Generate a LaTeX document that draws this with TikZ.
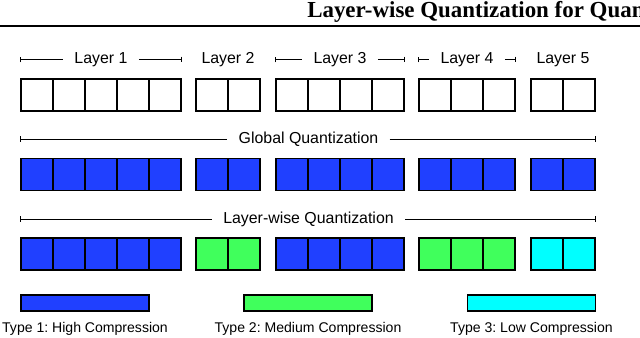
\documentclass[tikz,border=0pt]{standalone}
\usepackage{fontspec}
\setmainfont{Liberation Sans}
\newfontfamily\titlefont{Liberation Serif}
\usepackage{xcolor}
\usepackage{tikz}
\usetikzlibrary{arrows.meta,positioning}
\frenchspacing
\definecolor{HighBlue}{HTML}{2040FF}
\definecolor{MedGreen}{HTML}{40FF5C}
\definecolor{LowCyan}{HTML}{00FFFF}
\tikzset{
    cell/.style={draw=black, line width=0.9pt, minimum width=0.8cm, minimum height=0.8cm, inner sep=0pt},
    typebar/.style={draw=black, line width=0.9pt, minimum width=3.2cm, minimum height=0.4cm, inner sep=0pt},
    spanlabel/.style={inner xsep=0.275cm, inner ysep=0pt, font=\fontsize{11.3}{13}\selectfont},
    typelabel/.style={inner sep=0pt, font=\fontsize{10}{12}\selectfont},
    spanline/.style={line width=0.7pt}
}

\begin{document}
\begin{tikzpicture}[x=0.025cm, y=-0.025cm]
        \useasboundingbox (0,0) rectangle (640,337);
        \fill[white] (0,0) rectangle (640,337);

        \node[anchor=base west, inner sep=0pt, font=\titlefont\bfseries\fontsize{16.3}{19}\selectfont] (title) at (307,17) {Layer-wise Quantization for Quan};
        \draw[line width=1.8pt] (0,26) -- (640,26);

        \foreach \l/\x/\n/\clr in {1/21/5/HighBlue, 2/196/2/MedGreen, 3/276/4/HighBlue, 4/419/3/MedGreen, 5/531/2/LowCyan} {
            \node[spanlabel] (lab\l) at ({\x+16*\n},59.5) {Layer \l};
            \foreach \c in {1,...,\n} {
                \node[cell] (p\l-\c) at ({\x+32*\c-16},95) {};
                \node[cell, fill=HighBlue] (g\l-\c) at ({\x+32*\c-16},174.5) {};
                \node[cell, fill=\clr] (w\l-\c) at ({\x+32*\c-16},254) {};
            }
        }

        \foreach \l/\n in {1/5, 3/4, 4/3} {
            \draw[spanline, {Bar[width=4pt]}-] (p\l-1.west |- lab\l) -- (lab\l.west);
            \draw[spanline, -{Bar[width=4pt]}] (lab\l.east) -- (p\l-\n.east |- lab\l);
        }

        \node[spanlabel] (glab) at (308.5,139) {Global Quantization};
        \draw[spanline, {Bar[width=4pt]}-] (g1-1.west |- glab) -- (glab.west);
        \draw[spanline, -{Bar[width=4pt]}] (glab.east) -- (g5-2.east |- glab);

        \node[spanlabel] (wlab) at (308.5,219) {Layer-wise Quantization};
        \draw[spanline, {Bar[width=4pt]}-] (w1-1.west |- wlab) -- (wlab.west);
        \draw[spanline, -{Bar[width=4pt]}] (wlab.east) -- (w5-2.east |- wlab);

        \foreach \t/\x/\clr/\txt in {1/85/HighBlue/High, 2/308/MedGreen/Medium, 3/531.5/LowCyan/Low} {
            \node[typebar, fill=\clr] (type\t) at (\x,303) {};
            \node[typelabel, below=0.27cm of type\t] (type\t lab) {Type \t: \txt\ Compression};
        }
    \end{tikzpicture}
\end{document}
